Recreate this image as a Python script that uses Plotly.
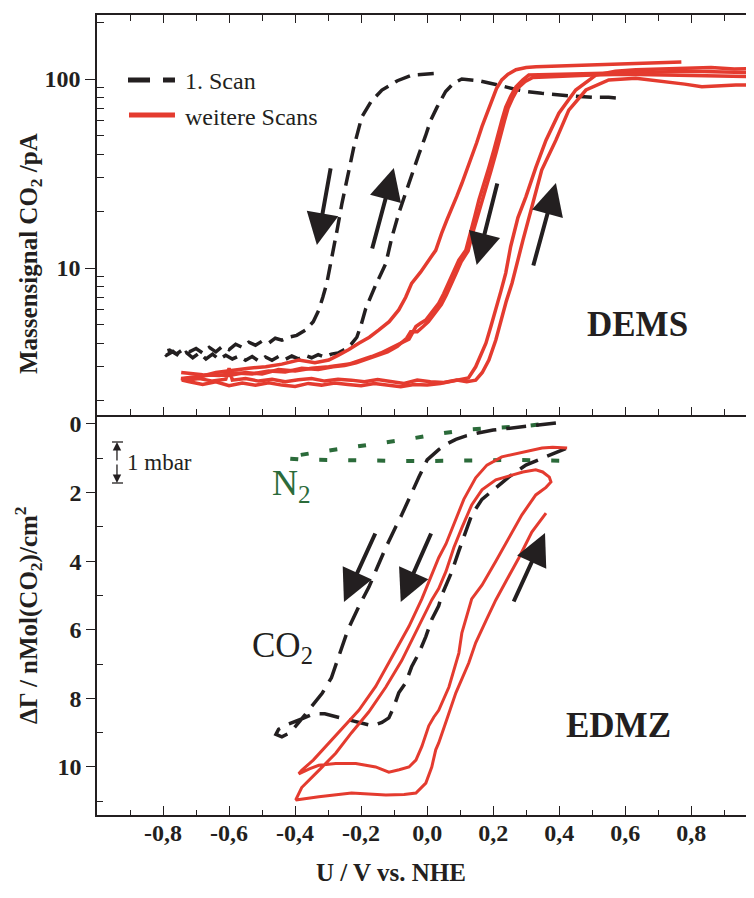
import plotly.graph_objects as go

FONT = "Liberation Serif, Times New Roman, serif"
INK = "#231f20"
RED = "#e43b2f"
GREEN = "#2b6b3a"

# ---- DEMS (top panel), CO2 mass signal in pA, log axis ----
dems_scan1_x = [0.02, -0.02, -0.046, -0.09, -0.137, -0.17, -0.198, -0.222, -0.243, -0.258,
                -0.273, -0.29, -0.304, -0.316, -0.328, -0.345, -0.368, -0.395,
                -0.42, -0.44, -0.46, -0.48, -0.50, -0.52, -0.54, -0.56, -0.58, -0.60,
                -0.62, -0.64, -0.66, -0.68, -0.70, -0.72, -0.74, -0.76, -0.78, -0.80,
                -0.79, -0.77, -0.75, -0.73, -0.71, -0.69, -0.67, -0.65, -0.63, -0.61,
                -0.59, -0.57, -0.55, -0.53, -0.51, -0.49, -0.47, -0.45, -0.43, -0.41,
                -0.39, -0.37, -0.35, -0.33, -0.31, -0.29, -0.27, -0.25, -0.23,
                -0.213, -0.2, -0.186, -0.17, -0.155, -0.14, -0.125, -0.107, -0.086, -0.065,
                -0.05, -0.025, -0.005, 0.01, 0.03, 0.056, 0.08, 0.105, 0.157, 0.196,
                0.226, 0.269, 0.30, 0.347, 0.40, 0.45, 0.50, 0.55, 0.59]
dems_scan1_y = [107, 106, 105, 98, 87.5, 76, 63, 43.7, 30, 22,
                15.8, 11, 8.3, 7.0, 6.0, 5.2, 4.7, 4.4,
                4.3, 4.15, 4.25, 4.0, 4.1, 3.9, 4.05, 3.8, 3.95, 3.7,
                3.85, 3.6, 3.8, 3.55, 3.75, 3.6, 3.7, 3.5, 3.68, 3.6,
                3.45, 3.62, 3.4, 3.58, 3.35, 3.55, 3.3, 3.5, 3.28, 3.45,
                3.3, 3.42, 3.25, 3.4, 3.22, 3.38, 3.25, 3.4, 3.28, 3.42,
                3.3, 3.45, 3.35, 3.48, 3.38, 3.5, 3.55, 3.7, 3.95,
                4.3, 5.0, 6.1, 7.2, 8.2, 9.3, 10.6, 14.5, 19.5, 25,
                30, 40, 50, 60, 71, 86, 95, 100, 98, 95,
                92, 88, 86, 84, 82, 81, 80, 80, 79]

dems_scan2_x = [0.77, 0.70, 0.62, 0.55, 0.48, 0.42, 0.37, 0.33, 0.30, 0.285,
                0.269, 0.245, 0.226, 0.21, 0.196, 0.18, 0.166, 0.15, 0.135, 0.12,
                0.105, 0.09, 0.075, 0.06, 0.044, 0.026, 0.005, -0.02, -0.047, -0.065,
                -0.086, -0.115, -0.146, -0.175, -0.207, -0.237, -0.27, -0.298, -0.34, -0.389,
                -0.44, -0.489, -0.54, -0.592, -0.64, -0.692, -0.743,
                -0.72, -0.68, -0.64, -0.60, -0.56, -0.52, -0.48, -0.44, -0.40, -0.36,
                -0.32, -0.28, -0.24, -0.20, -0.16, -0.12, -0.08, -0.04, 0.0, 0.04,
                0.07, 0.10, 0.125,
                0.147, 0.165, 0.178, 0.193, 0.208, 0.223, 0.238, 0.253, 0.275, 0.299,
                0.329, 0.36, 0.399, 0.45, 0.511, 0.57, 0.632, 0.70, 0.78, 0.86,
                0.93, 1.0]
dems_scan2_y = [123, 122, 121, 120, 119, 118, 117, 116, 115, 114,
                112, 106, 99, 89, 77, 66, 56, 46, 38.6, 33,
                28, 24, 21, 18, 15.3, 12.4, 11, 9.5, 8.3, 7.0,
                6.0, 5.2, 4.7, 4.3, 4.0, 3.7, 3.45, 3.26, 3.15, 3.26,
                3.1, 3.0, 2.95, 2.88, 2.8, 2.65, 2.55,
                2.5, 2.42, 2.5, 2.38, 2.46, 2.4, 2.47, 2.4, 2.36, 2.45,
                2.4, 2.46, 2.42, 2.38, 2.45, 2.4, 2.35, 2.42, 2.4, 2.45,
                2.5, 2.55, 2.62,
                3.0, 3.5, 4.0, 4.9, 6.0, 7.5, 9.4, 13, 18.5, 23.8,
                34, 47.5, 66, 87.5, 105, 110, 112, 113, 114, 115,
                113, 114]

dems_scan3_x = [1.0, 0.9, 0.8, 0.7, 0.6, 0.5, 0.42, 0.36, 0.308,
                0.29, 0.269, 0.253, 0.238, 0.227, 0.217, 0.202, 0.187, 0.172, 0.157,
                0.145, 0.135, 0.117, 0.096, 0.08, 0.066, 0.05, 0.035, 0.015, -0.004,
                -0.02, -0.034, -0.055, -0.085, -0.116, -0.14, -0.168, -0.2, -0.237, -0.27,
                -0.298, -0.35, -0.40, -0.45, -0.5, -0.55, -0.6, -0.65, -0.7, -0.745,
                -0.73, -0.69, -0.65, -0.61, -0.6, -0.59, -0.55, -0.51, -0.47, -0.43,
                -0.39, -0.35, -0.31, -0.27, -0.23, -0.19, -0.15, -0.11, -0.07, -0.03,
                0.01, 0.05, 0.09, 0.12, 0.147,
                0.167, 0.187, 0.208, 0.226, 0.24, 0.257, 0.273, 0.29, 0.317, 0.347,
                0.39, 0.429, 0.481, 0.55, 0.632, 0.70, 0.732, 0.78, 0.832, 0.88,
                0.935, 1.0]
dems_scan3_y = [108, 109, 110, 109, 108, 107, 106, 106, 105,
                99, 91, 81, 71, 61, 52, 42, 34, 28, 23,
                19, 16.5, 12.4, 11, 9.5, 8.3, 7.3, 6.5, 5.8, 5.3,
                5.1, 4.9, 4.2, 3.95, 3.7, 3.55, 3.4, 3.25, 3.1, 3.05,
                3.0, 2.95, 2.85, 2.9, 2.75, 2.8, 2.7, 2.72, 2.65, 2.6,
                2.55, 2.6, 2.52, 2.58, 2.95, 2.55, 2.6, 2.52, 2.58, 2.5,
                2.56, 2.6, 2.52, 2.58, 2.55, 2.5, 2.57, 2.52, 2.45, 2.55,
                2.5, 2.48, 2.55, 2.5, 2.55,
                2.8, 3.26, 4.16, 5.5, 6.7, 8.3, 10.8, 14, 21, 33,
                47.5, 68.5, 87.5, 99, 101, 98, 96, 94, 91, 92,
                93, 93]

dems_scan4_x = [1.0, 0.9, 0.8, 0.7, 0.6, 0.5, 0.43, 0.37, 0.32,
                0.297, 0.276, 0.26, 0.245, 0.234, 0.224, 0.209, 0.194, 0.179, 0.164,
                0.152, 0.142, 0.124, 0.103, 0.088, 0.074, 0.058, 0.043, 0.023, 0.004,
                -0.012, -0.03, -0.05, -0.062, -0.09, -0.12, -0.15, -0.18, -0.215, -0.25,
                -0.285, -0.33, -0.38, -0.43, -0.48, -0.53, -0.58, -0.63, -0.68, -0.745]
dems_scan4_y = [103, 104, 105, 106, 106, 105, 104, 103, 102,
                97, 90, 80, 70, 60, 51, 41, 33, 27, 22.5,
                18.7, 16.2, 12.3, 10.8, 9.4, 8.2, 7.2, 6.4, 5.7, 5.2,
                4.9, 4.6, 4.6, 4.25, 3.85, 3.6, 3.45, 3.3, 3.15, 3.05,
                3.0, 2.9, 2.95, 2.82, 2.85, 2.75, 2.78, 2.7, 2.72, 2.8]

# ---- EDMZ (bottom panel), surface excess in nMol(CO2)/cm2 ----
edmz_co2_x = [0.39, 0.33, 0.27, 0.2, 0.15, 0.12, 0.087, 0.06, 0.035, 0.0,
              -0.025, -0.05, -0.077, -0.095, -0.125, -0.152, -0.176, -0.206, -0.24, -0.265,
              -0.29, -0.318, -0.35, -0.38, -0.42, -0.45, -0.458, -0.44, -0.415, -0.38,
              -0.345, -0.31, -0.27, -0.2, -0.165, -0.137, -0.116, -0.101, -0.086, -0.065,
              -0.047, -0.025, -0.004, 0.014, 0.035, 0.044, 0.075, 0.096, 0.117, 0.135,
              0.166, 0.211, 0.247, 0.299, 0.338, 0.39, 0.424]
edmz_co2_y = [-0.03, 0.03, 0.09, 0.18, 0.27, 0.34, 0.45, 0.58, 0.75, 1.05,
              1.55, 2.1, 2.65, 3.0, 3.6, 4.2, 4.75, 5.3, 6.0, 6.7,
              7.4, 7.85, 8.25, 8.6, 8.75, 8.9, 9.05, 9.12, 9.0, 8.6,
              8.45, 8.45, 8.55, 8.7, 8.8, 8.7, 8.57, 8.25, 7.84, 7.55,
              7.08, 6.68, 6.2, 5.7, 5.3, 5.0, 4.3, 3.7, 3.15, 2.65,
              2.2, 1.85, 1.55, 1.2, 1.05, 0.85, 0.7]

edmz_n2_x = [0.40, 0.33, 0.25, 0.17, 0.09, 0.01, -0.07, -0.15, -0.23, -0.31, -0.38, -0.43,
             -0.40, -0.33, -0.24, -0.146, -0.055, 0.035, 0.12, 0.2, 0.3, 0.39]
edmz_n2_y = [1.07, 1.05, 1.05, 1.06, 1.08, 1.08, 1.08, 1.07, 1.06, 1.05, 1.04, 1.0,
             0.93, 0.82, 0.7, 0.58, 0.44, 0.29, 0.17, 0.12, 0.06, -0.04]

edmz_more_x = [0.424, 0.38, 0.348, 0.287, 0.226, 0.181, 0.147, 0.111, 0.081, 0.057,
               0.035, 0.01, -0.016, -0.055, -0.107, -0.156, -0.207, -0.259, -0.307, -0.345,
               -0.38, -0.389,
               -0.355, -0.328, -0.277, -0.216, -0.156, -0.116, -0.085, -0.055, -0.034, -0.016,
               0.005, 0.02,
               0.035, 0.066, 0.096, 0.105, 0.135, 0.166, 0.208, 0.248, 0.287, 0.329,
               0.36, 0.375, 0.37,
               0.35, 0.329, 0.29, 0.257, 0.208, 0.166, 0.135, 0.105, 0.081, 0.057, 0.035,
               0.014, -0.025, -0.077, -0.125, -0.177, -0.229, -0.277, -0.328, -0.38, -0.398,
               -0.36, -0.328, -0.229, -0.125, -0.07, -0.034, -0.004, 0.014, 0.026, 0.035,
               0.06, 0.087, 0.126, 0.147, 0.18, 0.208, 0.238, 0.278, 0.317, 0.36]
edmz_more_y = [0.7, 0.68, 0.7, 0.82, 0.96, 1.2, 1.57, 2.2, 2.95, 3.5,
               3.9, 4.5, 5.1, 5.9, 6.8, 7.65, 8.35, 8.9, 9.4, 9.8,
               10.1, 10.2,
               10.05, 9.95, 9.9, 9.9, 10.0, 10.15, 10.08, 10.0, 9.8, 9.4,
               8.8, 8.55,
               8.35, 7.67, 6.68, 6.1, 5.1, 4.7, 4.0, 3.3, 2.65, 2.07,
               1.85, 1.69, 1.55,
               1.4, 1.34, 1.4, 1.49, 1.63, 1.92, 2.36, 3.03, 3.6, 4.3, 4.8,
               5.13, 5.9, 6.9, 7.67, 8.4, 9.0, 9.6, 10.1, 10.6, 10.96,
               10.9, 10.87, 10.76, 10.82, 10.8, 10.76, 10.47, 10.0, 9.5, 9.3,
               8.6, 7.84, 6.97, 6.38, 5.7, 5.13, 4.6, 3.9, 3.15, 2.6]

x_tickvals = [-0.8, -0.6, -0.4, -0.2, 0.0, 0.2, 0.4, 0.6, 0.8]
x_ticktext = ["-0,8", "-0,6", "-0,4", "-0,2", "0,0", "0,2", "0,4", "0,6", "0,8"]
dems_tickvals = [10, 100]
dems_minor = [2, 3, 4, 5, 6, 7, 8, 9, 20, 30, 40, 50, 60, 70, 80, 90, 200]
edmz_tickvals = [0, 2, 4, 6, 8, 10]
edmz_minor = [1, 3, 5, 7, 9, 11]

fig = go.Figure()

fig.add_trace(go.Scatter(x=dems_scan1_x, y=dems_scan1_y, xaxis="x2", yaxis="y2", mode="lines",
                         line=dict(color=INK, width=3.5, dash="16px,8px"), name="1. Scan"))
for xs, ys in [(dems_scan2_x, dems_scan2_y), (dems_scan3_x, dems_scan3_y), (dems_scan4_x, dems_scan4_y)]:
    fig.add_trace(go.Scatter(x=xs, y=ys, xaxis="x2", yaxis="y2", mode="lines",
                             line=dict(color=RED, width=3.5), name="weitere Scans"))

fig.add_trace(go.Scatter(x=edmz_n2_x, y=edmz_n2_y, mode="lines",
                         line=dict(color=GREEN, width=4, dash="8px,21px"), name="N2"))
fig.add_trace(go.Scatter(x=edmz_co2_x, y=edmz_co2_y, mode="lines",
                         line=dict(color=INK, width=3.5, dash="20px,10px"), name="CO2"))
fig.add_trace(go.Scatter(x=edmz_more_x, y=edmz_more_y, mode="lines",
                         line=dict(color=RED, width=3), name="weitere Scans"))

tick_font = dict(family=FONT, size=24, color=INK, weight="bold")

# the page body adds 8 px around the figure, so the figure is kept 16 px smaller
# and the margins are shifted to put the plot where the reference has it
fig.update_layout(
    width=746, height=882,
    margin=dict(l=89, r=0, t=7, b=75),
    plot_bgcolor="white", paper_bgcolor="white",
    showlegend=False,
    xaxis=dict(domain=[0, 1], anchor="y", range=[-1.0, 0.99],
               tickvals=x_tickvals, ticktext=x_ticktext, tickfont=tick_font,
               ticklabelstandoff=-5,
               ticks="inside", ticklen=9, tickwidth=1.3, tickcolor=INK,
               minor=dict(tickmode="linear", tick0=0, dtick=0.1, ticks="inside",
                          ticklen=5, tickwidth=1.2, tickcolor=INK),
               showline=True, linecolor=INK, linewidth=1.5,
               showgrid=False, zeroline=False),
    yaxis=dict(domain=[0, 0.5], anchor="x", range=[11.4, -0.26],
               tickvals=edmz_tickvals, tickfont=tick_font,
               ticks="outside", ticklen=9, tickwidth=1.3, tickcolor=INK,
               minor=dict(tickmode="array", tickvals=edmz_minor, ticks="inside",
                          ticklen=6, tickwidth=1.2, tickcolor=INK),
               showline=True, linecolor=INK, linewidth=1.5,
               showgrid=False, zeroline=False),
    xaxis2=dict(domain=[0, 1], anchor="y2", matches="x", range=[-1.0, 0.99],
                showticklabels=False, tickvals=x_tickvals,
                ticks="inside", ticklen=8, tickwidth=1.3, tickcolor=INK,
                minor=dict(tickmode="linear", tick0=0, dtick=0.1, ticks="inside",
                           ticklen=6, tickwidth=1.2, tickcolor=INK),
                showline=True, mirror="ticks", linecolor=INK, linewidth=1.8,
                showgrid=False, zeroline=False),
    yaxis2=dict(domain=[0.5, 1], anchor="x2", type="log", range=[0.222, 2.339],
                tickvals=dems_tickvals, ticktext=["10", "100"], tickfont=tick_font,
                ticks="outside", ticklen=10, tickwidth=1.3, tickcolor=INK,
                minor=dict(tickmode="array", tickvals=dems_minor, ticks="inside",
                           ticklen=7, tickwidth=1.2, tickcolor=INK),
                showline=True, linecolor=INK, linewidth=1.5,
                showgrid=False, zeroline=False),
)


def label(text, x, y, size, color=INK, angle=0, xanchor="center"):
    fig.add_annotation(text=text, xref="paper", yref="paper", x=x, y=y,
                       xanchor=xanchor, yanchor="middle", textangle=angle, showarrow=False,
                       font=dict(family=FONT, size=size, color=color))


# legend drawn by hand in the top-left corner
fig.add_shape(type="line", xref="paper", yref="paper", x0=0.0472, x1=0.1187, y0=0.91875, y1=0.91875,
              line=dict(color=INK, width=5, dash="22px,13px"))
fig.add_shape(type="line", xref="paper", yref="paper", x0=0.0487, x1=0.1187, y0=0.875, y1=0.875,
              line=dict(color=RED, width=5))
label("1. Scan", 0.1309, 0.917, 24, xanchor="left")
label("weitere Scans", 0.1309, 0.873, 24, xanchor="left")

# axis titles
label("<b>Massensignal CO<sub>2</sub> /pA</b>", -0.102, 0.7025, 25, angle=-90)
label("<b>\u0394\u0393 / nMol(CO<sub>2</sub>)/cm<sup>2</sup></b>", -0.105, 0.25, 25, angle=-90)
label("<b>U / V vs. NHE</b>", 0.4475, -0.0715, 25)

# panel labels
label("<b>DEMS</b>", 0.8234, 0.6125, 35)
label("<b>EDMZ</b>", 0.7945, 0.1125, 35)
label("CO<sub>2</sub>", 0.2816, 0.21, 35)
label("N<sub>2</sub>", 0.2953, 0.4125, 36, color=GREEN)

# 1 mbar scale bar
label("1 mbar", 0.0426, 0.441, 23, xanchor="left")
for y_tip, ay in [(0.46625, 20), (0.415, -20)]:
    fig.add_annotation(text="", xref="paper", yref="paper", x=0.0304, y=y_tip,
                       ax=0, ay=ay, showarrow=True, arrowhead=2, arrowsize=1.3,
                       arrowwidth=1.3, arrowcolor=INK)
    fig.add_shape(type="line", xref="paper", yref="paper", x0=0.0228, x1=0.0396,
                  y0=y_tip, y1=y_tip, line=dict(color=INK, width=1.3))

# scan direction arrows
dems_arrows = [(-0.334, 1.122, 14, -78), (-0.101, 1.529, -22, 82),
               (0.150, 1.016, 21, -83), (0.390, 1.45, -23, 84)]
for x, ly, ax, ay in dems_arrows:
    fig.add_annotation(x=x, y=ly, xref="x2", yref="y2", ax=ax, ay=ay, text="",
                       showarrow=True, arrowhead=2, arrowsize=1.6, arrowwidth=4, arrowcolor=INK)
edmz_arrows = [(-0.252, 5.19, 32, -70), (-0.080, 5.19, 31, -70), (0.357, 3.18, -32, 70)]
for x, y, ax, ay in edmz_arrows:
    fig.add_annotation(x=x, y=y, xref="x", yref="y", ax=ax, ay=ay, text="",
                       showarrow=True, arrowhead=2, arrowsize=1.6, arrowwidth=4, arrowcolor=INK)

fig.write_html("out.html")
